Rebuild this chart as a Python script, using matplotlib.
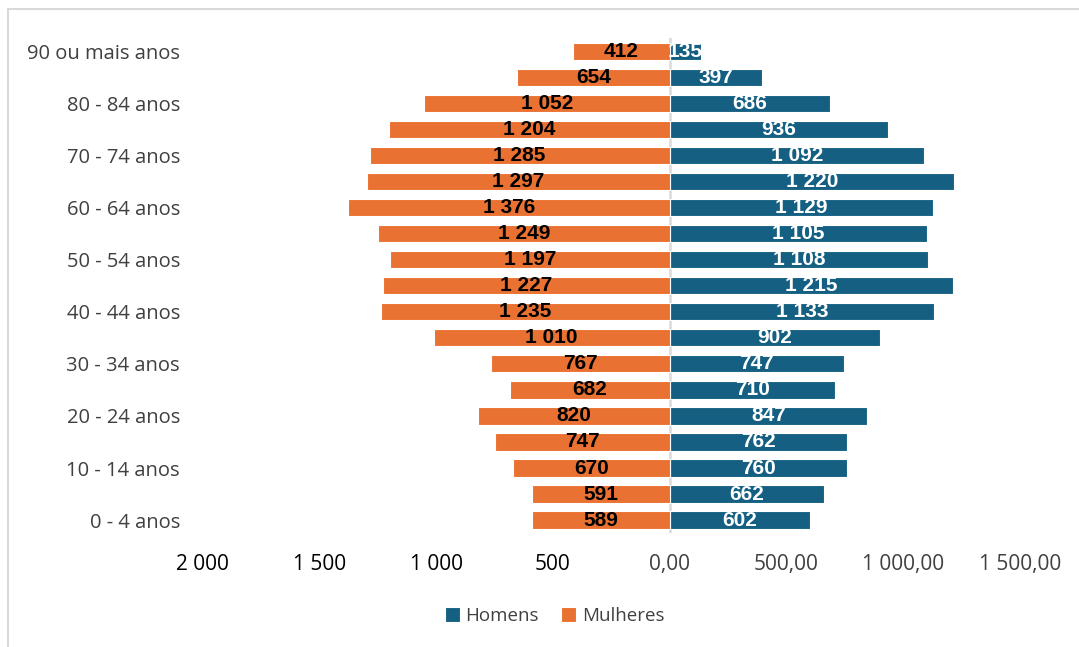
import matplotlib.pyplot as plt
from matplotlib.patches import Rectangle
from matplotlib.ticker import FuncFormatter

# age groups, bottom to top
faixas = ['0 - 4 anos', '5 - 9 anos', '10 - 14 anos', '15 - 19 anos', '20 - 24 anos',
          '25 - 29 anos', '30 - 34 anos', '35 - 39 anos', '40 - 44 anos', '45 - 49 anos',
          '50 - 54 anos', '55 - 59 anos', '60 - 64 anos', '65 - 69 anos', '70 - 74 anos',
          '75 - 79 anos', '80 - 84 anos', '85 - 89 anos', '90 ou mais anos']
homens = [602, 662, 760, 762, 847, 710, 747, 902, 1133, 1215,
          1108, 1105, 1129, 1220, 1092, 936, 686, 397, 135]
mulheres = [589, 591, 670, 747, 820, 682, 767, 1010, 1235, 1227,
            1197, 1249, 1376, 1297, 1285, 1204, 1052, 654, 412]
xticks = [-2000, -1500, -1000, -500, 0, 500, 1000, 1500]

AZUL = '#156082'
LARANJA = '#E97132'
FONTE = 'Open Sans'


def fmt_int(v):
    return f'{abs(v):,.0f}'.replace(',', ' ')


def fmt_tick(v, pos):
    if v < 0:
        return fmt_int(v)
    return f'{v:,.2f}'.replace(',', ' ').replace('.', ',')


fig = plt.figure(figsize=(10.79, 6.47), dpi=100)
ax = fig.add_axes([0.188, 0.176, 0.757, 0.765])

y = list(range(len(faixas)))
bh = ax.barh(y, homens, height=0.667, color=AZUL, edgecolor='white', linewidth=0.8, label='Homens')
bm = ax.barh(y, [-v for v in mulheres], height=0.667, color=LARANJA, edgecolor='white',
             linewidth=0.8, label='Mulheres')

ax.bar_label(bh, labels=[fmt_int(v) for v in homens], label_type='center', color='white',
             fontsize=15, fontweight='bold', family='Liberation Sans')
ax.bar_label(bm, labels=[fmt_int(v) for v in mulheres], label_type='center', color='black',
             fontsize=15, fontweight='bold', family='Liberation Sans')

ax.axvline(0, color='#d9d9d9', lw=1.8, zorder=0.5)

ax.set_xlim(-2000, 1500)
ax.set_ylim(-0.5, len(faixas) - 0.5)
ax.set_xticks(xticks)
ax.xaxis.set_major_formatter(FuncFormatter(fmt_tick))
ax.set_yticks(y[::2])
ax.set_yticklabels(faixas[::2])
for s in ax.spines.values():
    s.set_visible(False)
ax.tick_params(axis='both', length=0, labelsize=15, labelcolor='#404040')
ax.tick_params(axis='x', pad=15)
ax.tick_params(axis='y', pad=16.5, labelsize=14.5)
for t in ax.get_xticklabels() + ax.get_yticklabels():
    t.set_family(FONTE)
for t in ax.get_xticklabels():
    if t.get_position()[0] < 0:
        t.set_color('black')

ax.legend(handles=[bh, bm], loc='center', bbox_to_anchor=(0.514, 0.048),
          bbox_transform=fig.transFigure, ncol=2, frameon=False,
          prop={'family': FONTE, 'size': 13.5}, labelcolor='#404040',
          handlelength=0.8, handleheight=0.8, handletextpad=0.3, columnspacing=1.2)

fig.patches.append(Rectangle((8 / 1079, -0.1), 1.2, 1 - 9 / 647 + 0.1, transform=fig.transFigure,
                             fill=False, edgecolor='#d9d9d9', lw=1.5))

fig.savefig('out.png', dpi=100)
